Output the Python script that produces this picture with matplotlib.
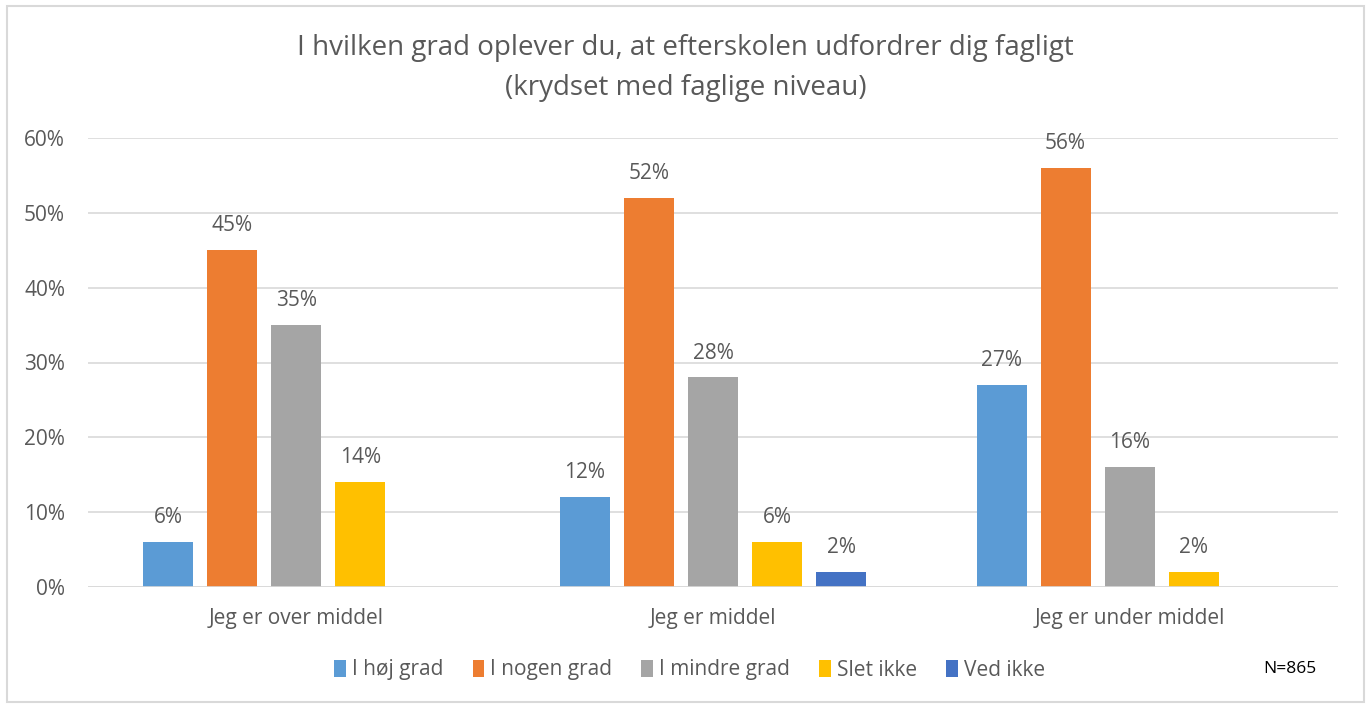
import numpy as np
import matplotlib.pyplot as plt
from matplotlib.patches import Rectangle

plt.rcParams['font.family'] = ['Open Sans', 'DejaVu Sans']

# data
categories = ['Jeg er over middel', 'Jeg er middel', 'Jeg er under middel']
series = ['I høj grad', 'I nogen grad', 'I mindre grad', 'Slet ikke', 'Ved ikke']
values = [
    [6, 12, 27],    # I høj grad
    [45, 52, 56],   # I nogen grad
    [35, 28, 16],   # I mindre grad
    [14, 6, 2],     # Slet ikke
    [0, 2, 0],      # Ved ikke
]
colors = ['#5B9BD5', '#ED7D31', '#A5A5A5', '#FFC000', '#4472C4']
yticks = [0, 10, 20, 30, 40, 50, 60]

text_color = '#595959'
grid_color = '#D9D9D9'
fs = 15

fig = plt.figure(figsize=(13.71, 7.04), dpi=100)
ax = fig.add_axes([88 / 1371, 1 - 587 / 704, 1250 / 1371, 449 / 704])

x = np.arange(len(categories))
width = 0.12
step = 0.1537
for i, (name, vals) in enumerate(zip(series, values)):
    vals = np.array(vals, dtype=float)
    pos = x + (i - 2) * step
    ax.bar(pos, vals, width, color=colors[i], label=name, zorder=3)
    for p, v in zip(pos, vals):
        if v > 0:
            ax.annotate('{:d}%'.format(int(v)), (p, v), xytext=(0, 17.5),
                        textcoords='offset points', ha='center', va='center',
                        fontsize=fs, color=text_color)

ax.set_xlim(-0.5, 2.5)
ax.set_ylim(0, 60)
ax.set_yticks(yticks)
ax.set_yticklabels(['{:d}%'.format(t) for t in yticks], fontsize=fs, color=text_color)
ax.set_xticks(x)
ax.set_xticklabels(categories, fontsize=fs, color=text_color)
ax.tick_params(axis='both', length=0)
ax.tick_params(axis='x', pad=15)
ax.tick_params(axis='y', pad=16.5)
ax.yaxis.grid(True, color=grid_color, lw=1.2, zorder=0)
for s in ax.spines.values():
    s.set_visible(False)
ax.axhline(0, color=grid_color, lw=1.2, zorder=4)

fig.text(0.5, 1 - 48 / 704, 'I hvilken grad oplever du, at efterskolen udfordrer dig fagligt',
         ha='center', va='center', fontsize=20, color=text_color)
fig.text(0.5, 1 - 88 / 704, '(krydset med faglige niveau)',
         ha='center', va='center', fontsize=20, color=text_color)

leg = fig.legend(loc='center', bbox_to_anchor=(0.503, 1 - 670 / 704), ncol=5, frameon=False,
                 fontsize=fs, handlelength=0.55, handleheight=0.85, handletextpad=0.3,
                 columnspacing=1.4)
for t in leg.get_texts():
    t.set_color(text_color)

fig.text(1290 / 1371, 1 - 669 / 704, 'N=865', ha='center', va='center', fontsize=12.5, color='black')

fig.patches.append(Rectangle((7 / 1371, 2 / 704), 1357 / 1371, 696 / 704, transform=fig.transFigure,
                             fill=False, edgecolor=grid_color, lw=1.5))

fig.savefig('out.png', dpi=100)
